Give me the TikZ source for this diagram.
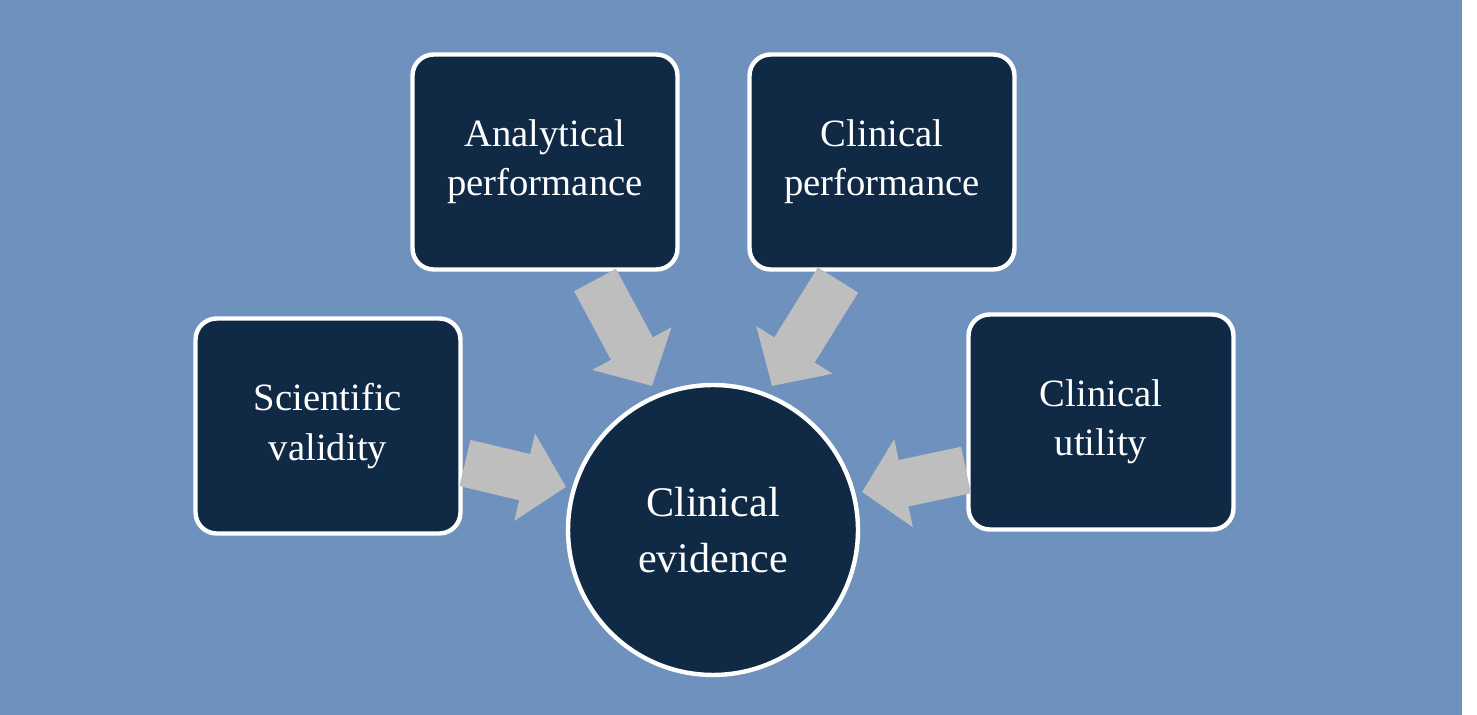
\documentclass[tikz,border=0pt]{standalone}
\usepackage{fontspec}
\setmainfont{Liberation Serif}
\usetikzlibrary{arrows.meta}
\definecolor{bgblue}{RGB}{111,145,190}
\definecolor{navy}{RGB}{16,42,70}
\definecolor{arrgray}{RGB}{190,190,190}
\tikzset{
  box/.style={draw=white,line width=2.5pt,fill=navy,rounded corners=12pt,
    minimum width=5.3cm,minimum height=4.3cm,text=white,align=center,
    font=\fontsize{22}{28}\selectfont},
  hub/.style={circle,draw=white,line width=2.5pt,fill=navy,minimum size=5.8cm,
    text=white,align=center,font=\fontsize{24}{32}\selectfont},
  flow/.style={draw=arrgray,line width=0.95cm,
    -{Triangle[length=0.85cm,width=1.75cm]}}
}
\begin{document}
\begin{tikzpicture}[x=0.02cm,y=-0.02cm]
\fill[white] (0,0) rectangle (1477,715);
\fill[bgblue] (0,0) rectangle (1462,715);
\node[box] (anal) at (545,162) {Analytical\\performance};
\node[box] (clinp) at (882,162) {Clinical\\performance};
\node[box] (sci) at (328,426) {Scientific\\validity};
\node[box] (util) at (1101,422) {Clinical\\utility};
\node[hub] (ev) at (713,530) {Clinical\\evidence};
% block arrows
\coordinate (s1) at (465,463); \coordinate (e1) at (566,487);
\coordinate (s2) at (595,280); \coordinate (e2) at (652,386);
\coordinate (s3) at (838,280); \coordinate (e3) at (772,386);
\coordinate (s4) at (966,470); \coordinate (e4) at (862,492);
\draw[flow] (s1) -- (e1);
\draw[flow] (s2) -- (e2);
\draw[flow] (s3) -- (e3);
\draw[flow] (s4) -- (e4);
\end{tikzpicture}
\end{document}
